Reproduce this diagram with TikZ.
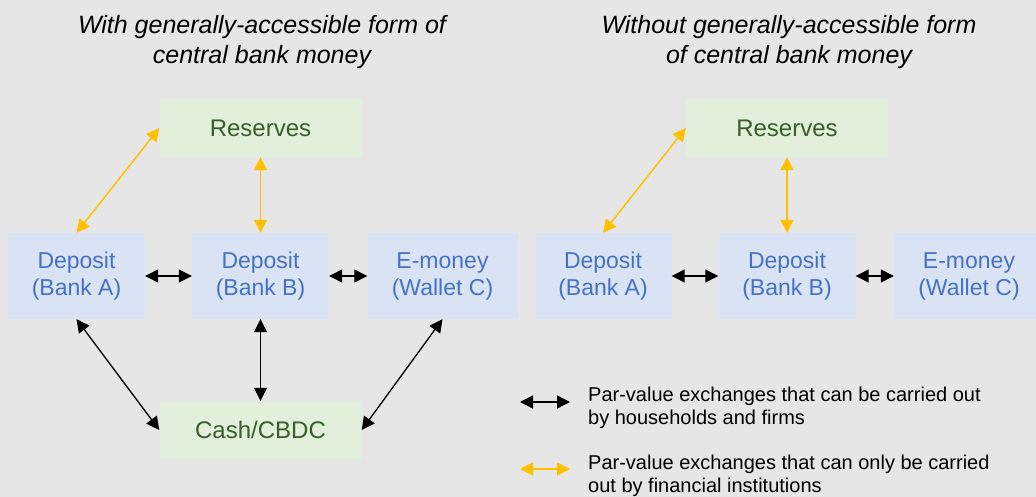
\documentclass[tikz,border=0pt]{standalone}
\usepackage{fontspec}
\setmainfont{Liberation Sans}
\usetikzlibrary{arrows.meta,positioning}
\definecolor{bgGray}{HTML}{E6E6E6}
\definecolor{resFill}{HTML}{E2EFDA}
\definecolor{resText}{HTML}{38602A}
\definecolor{depFill}{HTML}{DAE3F3}
\definecolor{depText}{HTML}{4472C4}
\definecolor{fiYellow}{HTML}{FFC000}

\begin{document}
\begin{tikzpicture}[x=1pt,y=-1pt,>={Triangle[length=13pt,width=13pt]},
  resbox/.style={fill=resFill,text=resText,minimum width=202pt,minimum height=58pt,
    font=\fontsize{24}{28}\selectfont},
  depbox/.style={fill=depFill,text=depText,minimum width=137pt,minimum height=86pt,
    align=center,font=\fontsize{23}{27}\selectfont},
  title/.style={anchor=north,inner sep=0pt,align=center,font=\fontsize{25}{30}\selectfont\itshape},
  keytext/.style={anchor=north west,inner sep=0pt,align=left,font=\fontsize{20}{23}\selectfont},
  hh/.style={<->,black,line width=1.3pt},
  fi/.style={<->,fiYellow,line width=1.5pt},
  node distance=184pt]
  \fill[bgGray] (0,0) rectangle (1036,497);
  \useasboundingbox (0,0) rectangle (1036,497);

  % with a generally-accessible form
  \node[title] (tL) at (262,15) {With generally-accessible form of\\central bank money};
  \node[depbox]                     (dA)  at (76.5,276)                 {Deposit\\(Bank A)};
  \node[depbox]                     (dB)  [right of=dA]                 {Deposit\\(Bank B)};
  \node[depbox,minimum width=150pt] (eC)  [right of=dB,node distance=182pt] {E-money\\(Wallet C)};
  \node[resbox]                     (res) [above of=dB,node distance=148pt] {Reserves};
  \node[resbox]                     (cash)[below of=dB,node distance=154pt] {Cash/CBDC};
  \path[hh] (dA)       edge (dB)
            (dB)       edge (eC)
            (dA.south) edge (cash.west)
            (dB)       edge (cash)
            (eC.south) edge (cash.east);
  \path[fi] (dA.north) edge (res.west)
            (res)      edge (dB);

  % without one
  \node[title] (tR) at (789,15) {Without generally-accessible form\\of central bank money};
  \node[depbox]                     (dA2)  at (603,276)                  {Deposit\\(Bank A)};
  \node[depbox]                     (dB2)  [right of=dA2]                {Deposit\\(Bank B)};
  \node[depbox,minimum width=150pt] (eC2)  [right of=dB2,node distance=182pt] {E-money\\(Wallet C)};
  \node[resbox]                     (res2) [above of=dB2,node distance=148pt] {Reserves};
  \path[hh] (dA2)       edge (dB2)
            (dB2)       edge (eC2);
  \path[fi] (dA2.north) edge (res2.west)
            (res2)      edge (dB2);

  % key
  \coordinate (k1a) at (520,402);
  \coordinate (k1b) at (570,402);
  \coordinate (k2a) at (520,469);
  \coordinate (k2b) at (570,469);
  \path[hh] (k1a) edge (k1b);
  \path[fi] (k2a) edge (k2b);
  \node[keytext] (k1) at (588,387) {Par-value exchanges that can be carried out\\by households and firms};
  \node[keytext] (k2) at (588,455) {Par-value exchanges that can only be carried\\out by financial institutions};
\end{tikzpicture}
\end{document}
